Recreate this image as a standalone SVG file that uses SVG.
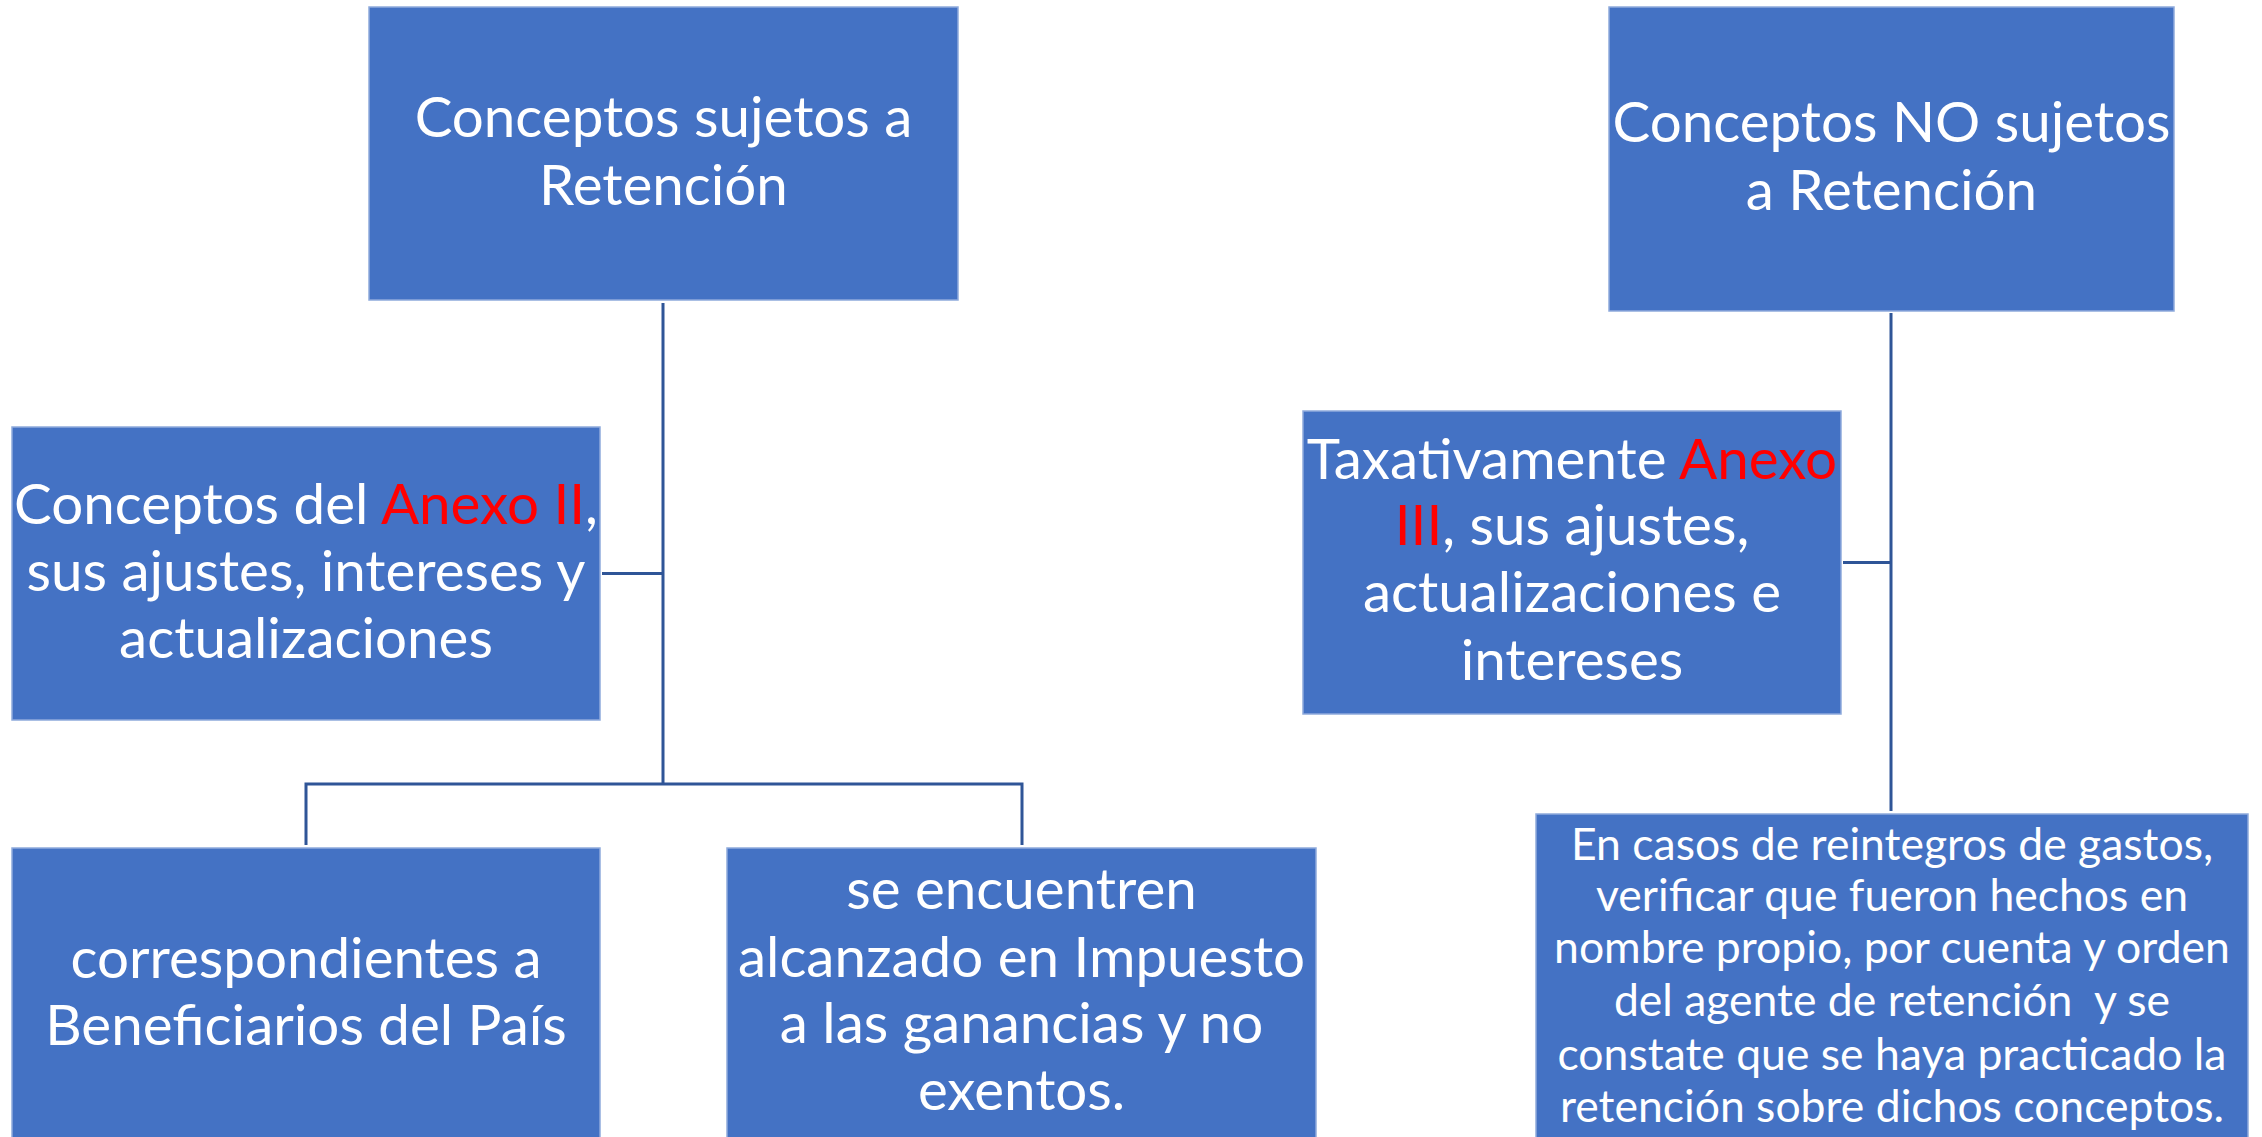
<svg xmlns="http://www.w3.org/2000/svg" width="2262" height="1137" viewBox="0 0 2262 1137">
<style>
.box{fill:#4472C4;stroke:#8FAADC;stroke-width:1.5}
.t{font-family:Lato,"Open Sans","Liberation Sans",sans-serif;fill:#FFFFFF;text-anchor:middle}
.big{font-size:56.5px}
.small{font-size:44.5px}
.red{fill:#FF0000}
.c{fill:none;stroke:#2F5597;stroke-width:3}
</style>
<rect width="2262" height="1137" fill="#FFFFFF"/>
<g id="connectors">
<path class="c" d="M663,303 V784"/>
<path class="c" d="M602,573.5 H663"/>
<path class="c" d="M306,845 V784 H1022 V845"/>
<path class="c" d="M1891,313 V811"/>
<path class="c" d="M1843,562.5 H1891"/>
</g>
<g id="n1">
<rect class="box" x="369" y="7" width="589" height="293"/>
<text class="t big" x="663.5" y="137">Conceptos sujetos a</text>
<text class="t big" x="663.5" y="205">Retención</text>
</g>
<g id="n2">
<rect class="box" x="12" y="427" width="588" height="293"/>
<text class="t big" x="306" y="524">Conceptos del <tspan class="red">Anexo II</tspan>,</text>
<text class="t big" x="306" y="591">sus ajustes, intereses y</text>
<text class="t big" x="306" y="658">actualizaciones</text>
</g>
<g id="n3">
<rect class="box" x="12" y="848" width="588" height="300"/>
<text class="t big" x="306" y="978">correspondientes a</text>
<text class="t big" x="306" y="1045">Beneficiarios del País</text>
</g>
<g id="n4">
<rect class="box" x="727" y="848" width="589" height="300"/>
<text class="t big" x="1021.5" y="909">se encuentren</text>
<text class="t big" x="1021.5" y="977">alcanzado en Impuesto</text>
<text class="t big" x="1021.5" y="1043">a las ganancias y no</text>
<text class="t big" x="1021.5" y="1110">exentos.</text>
</g>
<g id="n5">
<rect class="box" x="1609" y="7" width="565" height="304"/>
<text class="t big" x="1891.5" y="142">Conceptos NO sujetos</text>
<text class="t big" x="1891.5" y="210">a Retención</text>
</g>
<g id="n6">
<rect class="box" x="1303" y="411" width="538" height="303"/>
<text class="t big" x="1572" y="479">Taxativamente <tspan class="red">Anexo</tspan></text>
<text class="t big" x="1572" y="545"><tspan class="red">III</tspan>, sus ajustes,</text>
<text class="t big" x="1572" y="612">actualizaciones e</text>
<text class="t big" x="1572" y="680">intereses</text>
</g>
<g id="n7">
<rect class="box" x="1536" y="814" width="712" height="340"/>
<text class="t small" x="1892" y="860">En casos de reintegros de gastos,</text>
<text class="t small" x="1892" y="911">verificar que fueron hechos en</text>
<text class="t small" x="1892" y="963">nombre propio, por cuenta y orden</text>
<text class="t small" x="1892" y="1016" xml:space="preserve">del agente de retención  y se</text>
<text class="t small" x="1892" y="1070">constate que se haya practicado la</text>
<text class="t small" x="1892" y="1122">retención sobre dichos conceptos.</text>
</g>
</svg>
